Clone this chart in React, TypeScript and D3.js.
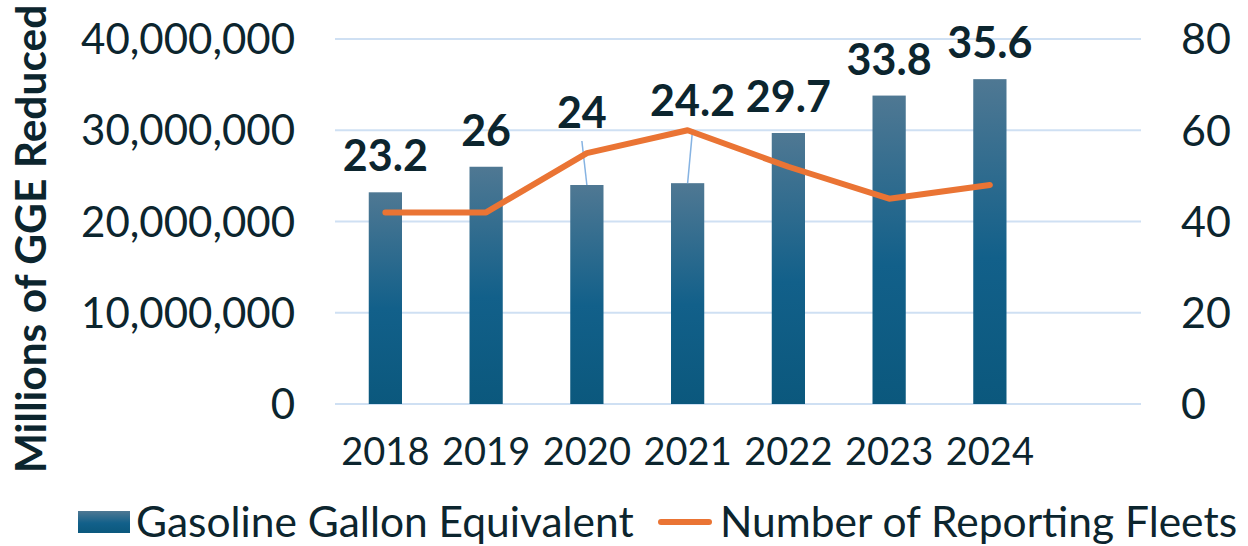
import { useRef, useEffect } from "react";
import * as d3 from "d3";

const years = ["2018", "2019", "2020", "2021", "2022", "2023", "2024"];
const gge = [23.2e6, 26e6, 24e6, 24.2e6, 29.7e6, 33.8e6, 35.6e6];
const ggeLabels = ["23.2", "26", "24", "24.2", "29.7", "33.8", "35.6"];
const fleets = [42, 42, 55, 60, 52, 45, 48];
const leftTicks = [0, 10e6, 20e6, 30e6, 40e6];
const rightTicks = [0, 20, 40, 60, 80];

// labels that were dragged off their bar, with a leader line
const labelShift: Record<string, { dx: number; dy: number }> = {
  "2020": { dx: -5, dy: -36 },
  "2021": { dx: 5, dy: -46 },
};

const FONT = "Lato, 'Open Sans', sans-serif";
const TEXT = "#0c252e";

export default function App() {
  const ref = useRef<SVGSVGElement>(null);

  function init() {
    const svg = d3.select(ref.current);
    svg.selectAll("*").remove();

    const left = 335,
      right = 1141,
      top = 39,
      bottom = 404;
    const step = (right - left) / 8;

    const x = d3
      .scaleBand()
      .domain(years)
      .range([left, right - step])
      .paddingInner(0.67)
      .paddingOuter(0.335);
    const y = d3.scaleLinear().domain([0, 40e6]).range([bottom, top]);
    const y2 = d3.scaleLinear().domain([0, 80]).range([bottom, top]);

    const defs = svg.append("defs");
    const grad = defs
      .append("linearGradient")
      .attr("id", "barGrad")
      .attr("x1", 0)
      .attr("y1", 0)
      .attr("x2", 0)
      .attr("y2", 1);
    grad.append("stop").attr("offset", "0%").attr("stop-color", "#4f7893");
    grad.append("stop").attr("offset", "55%").attr("stop-color", "#12608a");
    grad.append("stop").attr("offset", "100%").attr("stop-color", "#0b587d");

    // Gridlines
    svg
      .append("g")
      .selectAll("line")
      .data(leftTicks)
      .join("line")
      .attr("x1", left)
      .attr("x2", right)
      .attr("y1", (d) => y(d))
      .attr("y2", (d) => y(d))
      .attr("stroke", "#cfe0f3")
      .attr("stroke-width", 2);

    // Left axis labels
    const fmt = d3.format(",");
    svg
      .append("g")
      .selectAll("text")
      .data(leftTicks)
      .join("text")
      .attr("x", 295)
      .attr("y", (d) => y(d))
      .attr("dy", "0.36em")
      .attr("text-anchor", "end")
      .attr("font-family", FONT)
      .attr("font-size", 42)
      .attr("fill", TEXT)
      .text((d) => fmt(d));

    // Right axis labels
    svg
      .append("g")
      .selectAll("text")
      .data(rightTicks)
      .join("text")
      .attr("x", 1181)
      .attr("y", (d) => y2(d))
      .attr("dy", "0.36em")
      .attr("text-anchor", "start")
      .attr("font-family", FONT)
      .attr("font-size", 43)
      .attr("fill", TEXT)
      .text((d) => d);

    // Year labels
    svg
      .append("g")
      .selectAll("text")
      .data(years)
      .join("text")
      .attr("x", (d) => x(d)! + x.bandwidth() / 2)
      .attr("y", 465)
      .attr("text-anchor", "middle")
      .attr("font-family", FONT)
      .attr("font-size", 38)
      .attr("fill", TEXT)
      .text((d) => d);

    // Axis title
    svg
      .append("text")
      .attr("transform", "translate(46,239) rotate(-90)")
      .attr("text-anchor", "middle")
      .attr("font-family", FONT)
      .attr("font-weight", "bold")
      .attr("font-size", 42.5)
      .attr("fill", TEXT)
      .text("Millions of GGE Reduced");

    // Bars
    svg
      .append("g")
      .selectAll("rect")
      .data(years)
      .join("rect")
      .attr("x", (d) => x(d)!)
      .attr("y", (_, i) => y(gge[i]))
      .attr("width", x.bandwidth())
      .attr("height", (_, i) => bottom - y(gge[i]))
      .attr("fill", "url(#barGrad)");

    // Leader lines
    years.forEach((yr, i) => {
      const s = labelShift[yr];
      if (!s) return;
      const cx = x(yr)! + x.bandwidth() / 2;
      const ty = y(gge[i]);
      svg
        .append("line")
        .attr("x1", cx + s.dx)
        .attr("y1", ty - 20 + s.dy + 12)
        .attr("x2", cx)
        .attr("y2", ty)
        .attr("stroke", "#86b3e2")
        .attr("stroke-width", 1.5);
    });

    // Line
    const line = d3
      .line<number>()
      .x((_, i) => x(years[i])! + x.bandwidth() / 2)
      .y((d) => y2(d));
    svg
      .append("path")
      .datum(fleets)
      .attr("d", line)
      .attr("fill", "none")
      .attr("stroke", "#ea7434")
      .attr("stroke-width", 6)
      .attr("stroke-linecap", "round")
      .attr("stroke-linejoin", "round");

    // Data labels
    svg
      .append("g")
      .selectAll("text")
      .data(years)
      .join("text")
      .attr(
        "x",
        (d) => x(d)! + x.bandwidth() / 2 + (labelShift[d] ? labelShift[d].dx : 0)
      )
      .attr(
        "y",
        (d, i) => y(gge[i]) - 21 + (labelShift[d] ? labelShift[d].dy : 0)
      )
      .attr("text-anchor", "middle")
      .attr("font-family", FONT)
      .attr("font-weight", "bold")
      .attr("font-size", 43)
      .attr("fill", TEXT)
      .text((_, i) => ggeLabels[i]);

    // Legend
    const lg = svg.append("g");
    lg.append("rect")
      .attr("x", 78)
      .attr("y", 511)
      .attr("width", 52)
      .attr("height", 22)
      .attr("fill", "url(#barGrad)");
    lg.append("text")
      .attr("x", 136)
      .attr("y", 522)
      .attr("dy", "0.36em")
      .attr("font-family", FONT)
      .attr("font-size", 42.5)
      .attr("fill", TEXT)
      .text("Gasoline Gallon Equivalent");
    lg.append("line")
      .attr("x1", 661)
      .attr("x2", 709)
      .attr("y1", 522)
      .attr("y2", 522)
      .attr("stroke", "#ea7434")
      .attr("stroke-width", 6)
      .attr("stroke-linecap", "round");
    lg.append("text")
      .attr("x", 720)
      .attr("y", 522)
      .attr("dy", "0.36em")
      .attr("font-family", FONT)
      .attr("font-size", 42.5)
      .attr("fill", TEXT)
      .text("Number of Reporting Fleets");
  }

  useEffect(init, []);

  return (
    <svg
      ref={ref}
      width={1248}
      height={546}
      style={{ display: "block", position: "absolute", left: 0, top: 0 }}
    />
  );
}
